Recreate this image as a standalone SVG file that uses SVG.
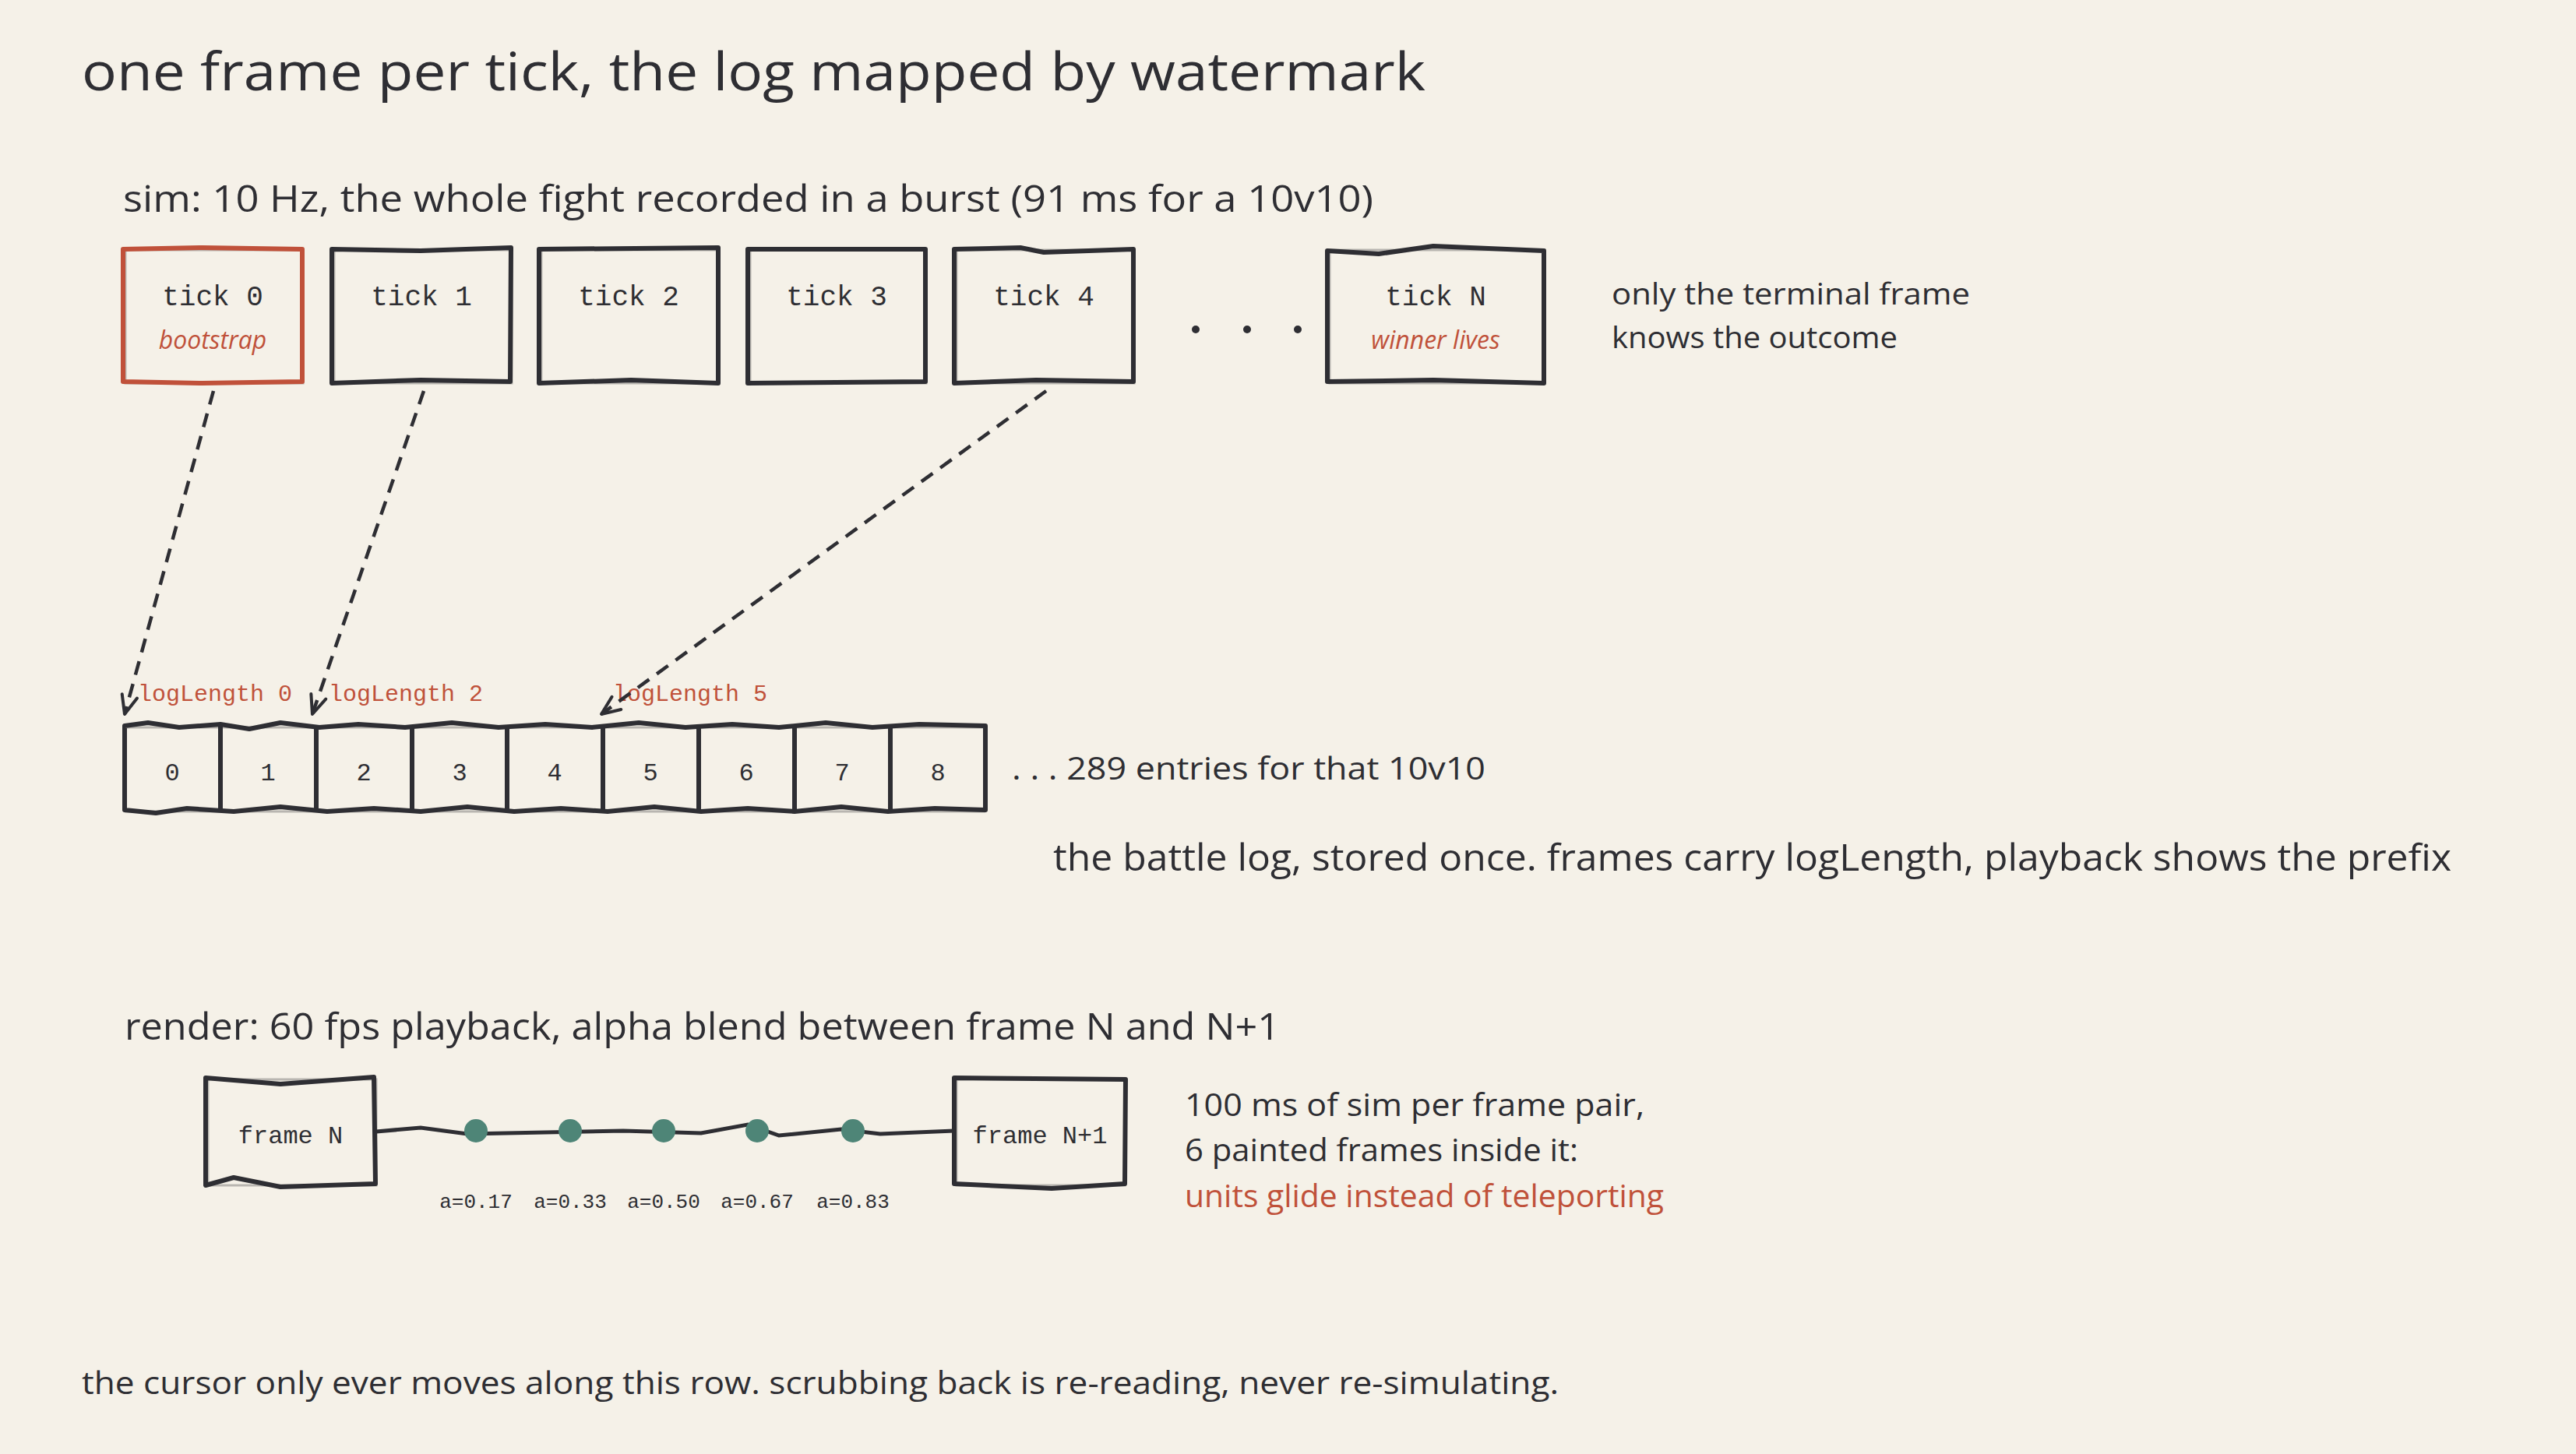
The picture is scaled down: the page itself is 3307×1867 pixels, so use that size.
<svg xmlns="http://www.w3.org/2000/svg" width="3307" height="1867" viewBox="0 0 3307 1867">
<style>
.hand{font-family:"Open Sans","Liberation Sans",sans-serif;fill:#2e2e33}
.mono{font-family:"Liberation Mono","DejaVu Sans Mono",monospace;fill:#2e2e33}
.red{fill:#c0513a}
.box{fill:none;stroke:#2e2e33;stroke-width:6;stroke-linejoin:round}
.ghost{fill:none;stroke:#2e2e33;stroke-opacity:0.3;stroke-width:3}
.arrow{fill:none;stroke:#2e2e33;stroke-width:4.5;stroke-dasharray:18 12;marker-end:url(#ah)}
</style>
<defs>
<marker id="ah" viewBox="0 0 30 30" refX="28" refY="15" markerWidth="30" markerHeight="30" orient="auto" markerUnits="userSpaceOnUse">
<path d="M4,5 L28,15 L4,25" fill="none" stroke="#2e2e33" stroke-width="4" stroke-linecap="round" stroke-linejoin="round"/>
</marker>
</defs>
<rect width="3307" height="1867" fill="#f5f1e8"/>
<text class="hand" x="105" y="116" font-size="68" textLength="1725" lengthAdjust="spacingAndGlyphs">one frame per tick, the log mapped by watermark</text>
<text class="hand" x="158" y="272" font-size="48" textLength="1605" lengthAdjust="spacingAndGlyphs">sim: 10 Hz, the whole fight recorded in a burst (91 ms for a 10v10)</text>

<g id="tick0"><rect class="ghost" x="161" y="321" width="228" height="171"/><path class="box" d="M158,320 L260,318 L388,320 L388,490 L260,492 L158,490 Z" style="stroke:#c0513a"/><text class="mono" x="273" y="392" font-size="36" text-anchor="middle">tick 0</text><text class="hand red" x="273" y="448" font-size="32" text-anchor="middle" font-style="italic">bootstrap</text></g>
<g id="tick1"><rect class="ghost" x="429" y="321" width="228" height="171"/><path class="box" d="M426,320 L540,322 L656,318 L655,490 L540,488 L426,492 Z"/><text class="mono" x="541" y="392" font-size="36" text-anchor="middle">tick 1</text></g>
<g id="tick2"><rect class="ghost" x="695" y="321" width="228" height="171"/><path class="box" d="M692,320 L922,318 L922,492 L810,488 L692,492 Z"/><text class="mono" x="807" y="392" font-size="36" text-anchor="middle">tick 2</text></g>
<g id="tick3"><rect class="ghost" x="963" y="321" width="226" height="171"/><path class="box" d="M960,320 L1188,320 L1188,490 L960,492 Z"/><text class="mono" x="1074" y="392" font-size="36" text-anchor="middle">tick 3</text></g>
<g id="tick4"><rect class="ghost" x="1228" y="321" width="228" height="171"/><path class="box" d="M1225,320 L1310,318 L1340,324 L1455,320 L1455,490 L1330,488 L1225,492 Z"/><text class="mono" x="1340" y="392" font-size="36" text-anchor="middle">tick 4</text></g>
<g id="ellipsis" fill="#2e2e33"><circle cx="1535" cy="423" r="5"/><circle cx="1601" cy="423" r="5"/><circle cx="1666" cy="423" r="5"/></g>
<g id="tickN"><rect class="ghost" x="1707" y="321" width="276" height="171"/><path class="box" d="M1704,322 L1770,326 L1840,316 L1982,322 L1982,492 L1840,488 L1704,490 Z"/><text class="mono" x="1843" y="392" font-size="36" text-anchor="middle">tick N</text><text class="hand red" x="1843" y="448" font-size="32" text-anchor="middle" font-style="italic">winner lives</text></g>
<text class="hand" x="2069" y="391" font-size="38" textLength="460" lengthAdjust="spacingAndGlyphs">only the terminal frame</text>
<text class="hand" x="2069" y="447" font-size="38" textLength="367" lengthAdjust="spacingAndGlyphs">knows the outcome</text>

<g id="log">
<path class="ghost" d="M160,934 L1265,934 M160,1042 L1265,1042"/>
<path class="box" d="M160,932 L190,928 L230,934 L283,930 L320,936 L360,928 L410,934 L460,930 L520,934 L580,928 L640,934 L700,930 L760,934 L820,928 L880,934 L940,930 L1000,934 L1060,928 L1120,934 L1180,930 L1265,932 L1265,1040 L1200,1038 L1140,1042 L1080,1036 L1020,1042 L960,1038 L900,1042 L840,1036 L780,1042 L720,1038 L660,1042 L600,1036 L540,1042 L480,1038 L420,1042 L360,1036 L300,1042 L240,1038 L200,1044 L160,1040 Z"/>
<path class="box" d="M283,930 L283,1040 M406,932 L406,1040 M529,932 L529,1040 M651,932 L651,1040 M774,932 L774,1040 M897,932 L897,1040 M1020,932 L1020,1040 M1143,932 L1143,1040"/>
<g class="mono" font-size="32" text-anchor="middle">
<text x="221" y="1002">0</text><text x="344" y="1002">1</text><text x="467" y="1002">2</text><text x="590" y="1002">3</text><text x="712" y="1002">4</text><text x="835" y="1002">5</text><text x="958" y="1002">6</text><text x="1081" y="1002">7</text><text x="1204" y="1002">8</text>
</g>
</g>
<text class="hand" x="1299" y="1001" font-size="40" textLength="608" lengthAdjust="spacingAndGlyphs">. . . 289 entries for that 10v10</text>
<text class="mono red" x="177" y="900" font-size="30">logLength 0</text>
<text class="mono red" x="422" y="900" font-size="30">logLength 2</text>
<text class="mono red" x="787" y="900" font-size="30">logLength 5</text>
<text class="hand" x="1352" y="1118" font-size="48" textLength="1795" lengthAdjust="spacingAndGlyphs">the battle log, stored once. frames carry logLength, playback shows the prefix</text>

<g id="connectors">
<path class="arrow" d="M274,502 L160,917"/>
<path class="arrow" d="M544,502 L401,917"/>
<path class="arrow" d="M1343,502 L772,917"/>
<path d="M483,1453 L540,1448 L600,1456 L700,1454 L800,1452 L900,1455 L960,1444 L1000,1458 L1080,1450 L1130,1456 L1225,1452" fill="none" stroke="#2e2e33" stroke-width="5"/>
</g>

<text class="hand" x="160" y="1335" font-size="48" textLength="1483" lengthAdjust="spacingAndGlyphs">render: 60 fps playback, alpha blend between frame N and N+1</text>
<g id="frameN"><rect class="ghost" x="267" y="1386" width="216" height="136"/><path class="box" d="M264,1384 L360,1392 L480,1383 L482,1520 L360,1524 L300,1512 L264,1522 Z"/><text class="mono" x="373" y="1468" font-size="32" text-anchor="middle">frame N</text></g>
<g id="frameN1"><rect class="ghost" x="1228" y="1386" width="216" height="136"/><path class="box" d="M1225,1384 L1445,1386 L1444,1520 L1350,1526 L1225,1520 Z"/><text class="mono" x="1335" y="1468" font-size="32" text-anchor="middle">frame N+1</text></g>
<g id="dots" fill="#4e8577">
<circle cx="611" cy="1452" r="15"/><circle cx="732" cy="1452" r="15"/><circle cx="852" cy="1452" r="15"/><circle cx="972" cy="1452" r="15"/><circle cx="1095" cy="1452" r="15"/>
</g>
<g class="mono" font-size="26" text-anchor="middle">
<text x="611" y="1551">a=0.17</text><text x="732" y="1551">a=0.33</text><text x="852" y="1551">a=0.50</text><text x="972" y="1551">a=0.67</text><text x="1095" y="1551">a=0.83</text>
</g>
<text class="hand" x="1521" y="1433" font-size="40" textLength="590" lengthAdjust="spacingAndGlyphs">100 ms of sim per frame pair,</text>
<text class="hand" x="1521" y="1491" font-size="40" textLength="505" lengthAdjust="spacingAndGlyphs">6 painted frames inside it:</text>
<text class="hand red" x="1521" y="1550" font-size="40" textLength="615" lengthAdjust="spacingAndGlyphs">units glide instead of teleporting</text>
<text class="hand" x="105" y="1790" font-size="40" textLength="1896" lengthAdjust="spacingAndGlyphs">the cursor only ever moves along this row. scrubbing back is re-reading, never re-simulating.</text>
</svg>
